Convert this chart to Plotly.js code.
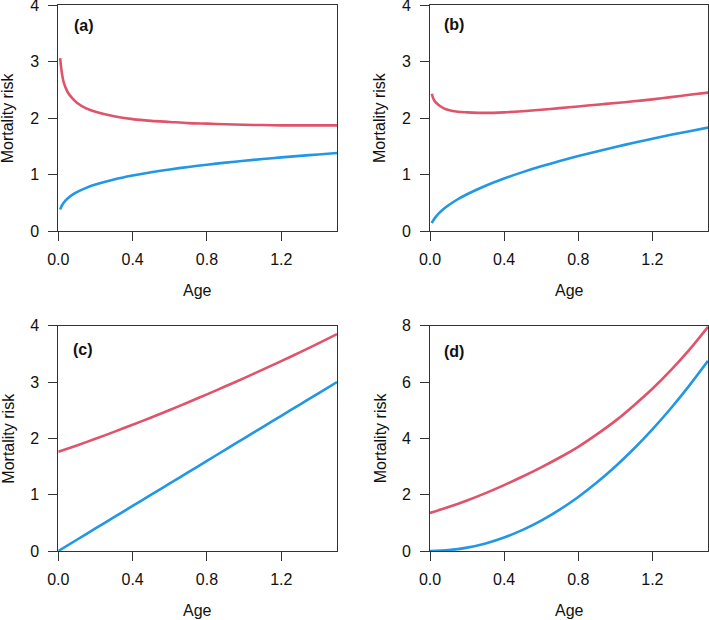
<!DOCTYPE html>
<html>
<head>
<meta charset="utf-8">
<script src="https://cdn.plot.ly/plotly-3.0.1.min.js"></script>
<style>html,body{margin:0;padding:0;background:#fff;}#chart{width:709px;height:620px;}</style>
</head>
<body>
<div id="chart"></div>
<script>
// ---- data ----
const ageAB = [0.01,0.015,0.02,0.03,0.05,0.075,0.1,0.15,0.2,0.3,0.4,0.5,0.6,0.7,0.8,0.9,1.0,1.1,1.2,1.3,1.4,1.5];
const redA  = [3.06,2.90,2.78,2.62,2.46,2.35,2.27,2.17,2.11,2.03,1.98,1.95,1.93,1.91,1.90,1.89,1.88,1.875,1.87,1.87,1.87,1.87];
const blueA = [0.38,0.42,0.455,0.505,0.576,0.639,0.688,0.763,0.822,0.912,0.982,1.04,1.09,1.134,1.174,1.21,1.243,1.274,1.303,1.33,1.355,1.38];
const redB  = [2.43,2.37,2.33,2.28,2.22,2.17,2.14,2.11,2.10,2.09,2.10,2.12,2.145,2.175,2.205,2.235,2.265,2.295,2.33,2.37,2.41,2.45];
const blueB = [0.14,0.173,0.20,0.246,0.32,0.394,0.456,0.562,0.651,0.802,0.93,1.042,1.144,1.238,1.327,1.409,1.487,1.561,1.633,1.702,1.767,1.83];
const ageCD = [0,0.1,0.2,0.3,0.4,0.5,0.6,0.7,0.8,0.9,1.0,1.1,1.2,1.3,1.4,1.5];
const redC  = [1.76,1.874,1.992,2.115,2.241,2.371,2.504,2.641,2.781,2.924,3.07,3.219,3.371,3.527,3.687,3.85];
const blueC = [0,0.2,0.4,0.6,0.8,1.0,1.2,1.4,1.6,1.8,2.0,2.2,2.4,2.6,2.8,3.0];
const redD  = [1.35,1.56,1.795,2.055,2.34,2.645,2.97,3.32,3.70,4.14,4.62,5.17,5.76,6.42,7.15,7.96];
const blueD = [0,0.03,0.12,0.27,0.48,0.75,1.08,1.47,1.92,2.43,3.0,3.63,4.32,5.07,5.88,6.75];
const xTicks = [0,0.4,0.8,1.2];
const panelLabels = ['(a)','(b)','(c)','(d)'];
const xTitle = 'Age';
const yTitle = 'Mortality risk';

// ---- styling ----
const RED = '#DF536B', BLUE = '#2297E6';
const W = 709, H = 620;
const FONT = 'Liberation Sans, Arial, Helvetica, sans-serif';
const FS = 16;
const px = v => v / W, py = v => 1 - v / H;

// panel pixel boxes [left, right, top, bottom]
const boxes = [[58.3,337,5,231],[430,708,5,231],[58.3,337,325.7,551],[430,708,325.7,551]];
const yRanges = [[0,4],[0,4],[0,4],[0,8]];
const yDticks = [1,1,1,2];
const series = [[ageAB,redA,blueA],[ageAB,redB,blueB],[ageCD,redC,blueC],[ageCD,redD,blueD]];
const labelPos = [[72,25.7],[442,25],[70.7,349.5],[441.7,351.5]];

const traces = [];
const layout = {
  width: W, height: H, margin: {l:0,r:0,t:0,b:0},
  paper_bgcolor: '#fff', plot_bgcolor: '#fff', showlegend: false,
  font: {family: FONT, size: FS, color: '#000'},
  annotations: []
};

series.forEach((s, i) => {
  const n = i + 1;
  const xa = n === 1 ? 'x' : 'x' + n, ya = n === 1 ? 'y' : 'y' + n;
  const ln = c => ({color: c, width: 2.6, shape: 'spline', smoothing: 0.8});
  traces.push({x: s[0], y: s[1], xaxis: xa, yaxis: ya, mode: 'lines', line: ln(RED), hoverinfo: 'skip'});
  traces.push({x: s[0], y: s[2], xaxis: xa, yaxis: ya, mode: 'lines', line: ln(BLUE), hoverinfo: 'skip'});
  const b = boxes[i];
  const common = {showgrid: false, zeroline: false, showline: true, mirror: true, linecolor: '#333', linewidth: 1,
                  ticks: 'outside', ticklen: 9, tickwidth: 1, tickcolor: '#333', ticklabeloverflow: 'allow',
                  tickfont: {family: FONT, size: FS, color: '#111'}};
  layout[n === 1 ? 'xaxis' : 'xaxis' + n] = Object.assign({}, common, {
    domain: [px(b[0]), px(b[1])], range: [0, 1.5], anchor: ya,
    tickmode: 'array', tickvals: xTicks, ticktext: xTicks.map(v => v.toFixed(1)), ticklabelstandoff: 5
  });
  layout[n === 1 ? 'yaxis' : 'yaxis' + n] = Object.assign({}, common, {
    domain: [py(b[3]), py(b[2])], range: yRanges[i], anchor: xa,
    tickmode: 'linear', dtick: yDticks[i], tick0: 0, ticklabelstandoff: 6
  });
  // axis titles
  layout.annotations.push({text: xTitle, xref: 'paper', yref: 'paper', x: px((b[0] + b[1]) / 2), y: py(b[3] + 59),
    xanchor: 'center', yanchor: 'middle', showarrow: false, font: {family: FONT, size: FS, color: '#111'}});
  layout.annotations.push({text: yTitle, xref: 'paper', yref: 'paper', x: px(b[0] - 50), y: py((b[2] + b[3]) / 2),
    xanchor: 'center', yanchor: 'middle', textangle: -90, showarrow: false, font: {family: FONT, size: FS, color: '#111'}});
  // panel label
  layout.annotations.push({text: '<b>' + panelLabels[i] + '</b>', xref: 'paper', yref: 'paper',
    x: px(labelPos[i][0]), y: py(labelPos[i][1]), xanchor: 'left', yanchor: 'middle', showarrow: false,
    font: {family: FONT, size: 16, color: '#111'}});
});

Plotly.newPlot('chart', traces, layout, {staticPlot: true, displayModeBar: false});
</script>
</body>
</html>
